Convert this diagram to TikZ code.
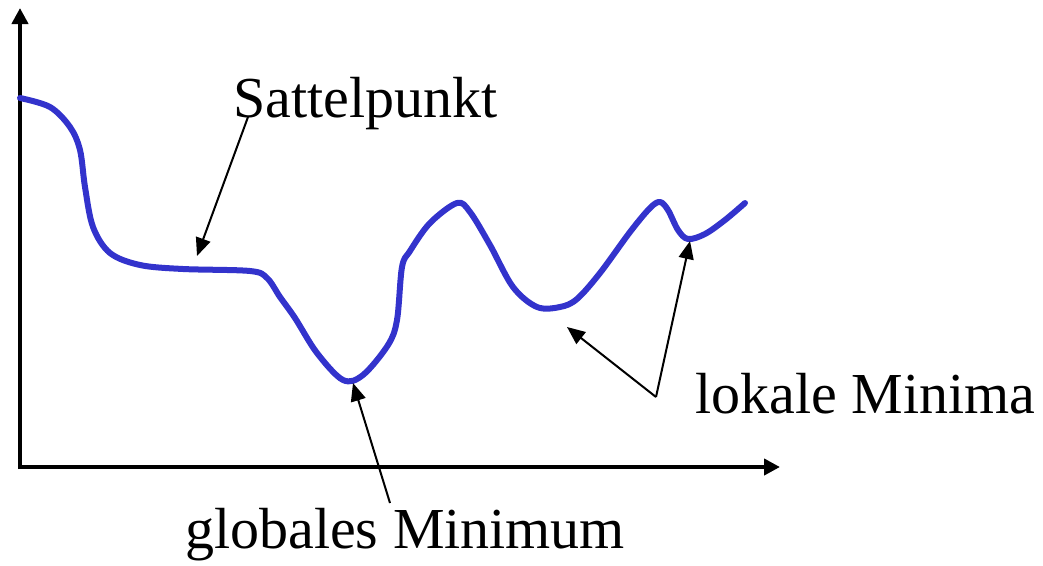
\documentclass[tikz,border=0pt]{standalone}
\usepackage{fontspec}
\setmainfont{Liberation Serif}
\usetikzlibrary{arrows.meta}
\definecolor{curveblue}{HTML}{3333CC}
\begin{document}
\begin{tikzpicture}[x=1pt,y=-1pt,
  axis/.style={line width=4pt,-{Triangle[length=16pt,width=16pt]}},
  pointer/.style={line width=2pt,-{Triangle[length=18pt,width=15pt]}},
  lbl/.style={font=\fontsize{58}{60}\selectfont, inner sep=0pt, anchor=base west},
  curvestyle/.style={line width=6pt, curveblue, line cap=round, line join=round}]
\useasboundingbox (0,0) rectangle (1043,565);
\coordinate (origin) at (20,467);
\coordinate (ytip) at (20,8);
\coordinate (xtip) at (780,467);
\draw[axis] (20,469) -- (ytip);
\draw[axis] (18,467) -- (xtip);
\draw[curvestyle] plot[smooth, tension=0.55] coordinates {
 (20,98) (50,107) (70,127) (80,150) (85,187) (93,227) (110,253) (140,265) (183,269) (250,271) (267,278) (280,297)
 (295,318) (317,353) (343,380) (363,375) (388,345) (397,320) (402,267) (410,251) (430,223) (457,203) (470,212)
 (490,245) (513,287) (537,307) (560,307) (577,299) (600,273) (630,232) (650,208) (660,202) (668,210) (678,230) (688,239) (705,234) (725,220) (745,203)};
\node[lbl] (sattel) at (233,117) {Sattelpunkt};
\node[lbl] (lokal) at (695,413) {lokale Minima};
\node[lbl] (global) at (185,548) {globales Minimum};
\coordinate (sattelfrom) at (248,117);
\coordinate (satteltip) at (197,256);
\coordinate (globfrom) at (390,503);
\coordinate (globtip) at (353,383);
\coordinate (lokvertex) at (656,397);
\coordinate (loktipA) at (567,327);
\coordinate (loktipB) at (690,241);
\draw[pointer] (sattelfrom) -- (satteltip);
\draw[pointer] (globfrom) -- (globtip);
\draw[pointer] (lokvertex) -- (loktipA);
\draw[pointer] (lokvertex) -- (loktipB);
\end{tikzpicture}
\end{document}
